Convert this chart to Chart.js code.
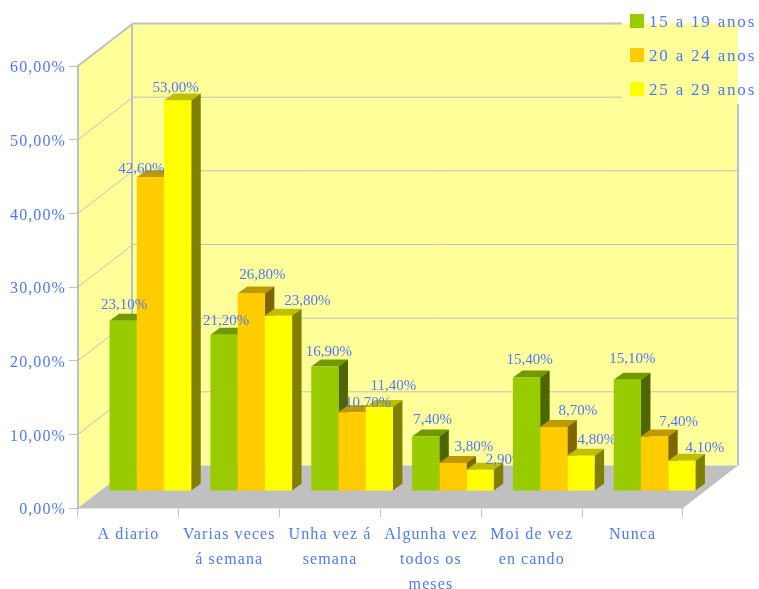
<!DOCTYPE html>
<html>
<head>
<meta charset="utf-8">
<style>html,body{margin:0;padding:0;background:#fff}canvas{display:block}</style>
<script src="https://cdn.jsdelivr.net/npm/chart.js@4"></script>
</head>
<body>
<canvas id="c" width="759" height="589"></canvas>
<script>
const categories = [['A diario'],['Varias veces','á semana'],['Unha vez á','semana'],['Algunha vez','todos os','meses'],['Moi de vez','en cando'],['Nunca']];
const seriesNames = ['15 a 19 anos','20 a 24 anos','25 a 29 anos'];
const age15to19 = [23.1,21.2,16.9,7.4,15.4,15.1];
const age20to24 = [42.6,26.8,10.7,3.8,8.7,7.4];
const age25to29 = [53.0,23.8,11.4,2.9,4.8,4.1];

const FONT = '"Liberation Serif", serif';
const TEXT = '#4d78ff';
const GREY = '#c0c0c0';
const fronts = ['#99cc00','#ffcc00','#ffff00'];
const tops = ['#739900','#bf9900','#bfbf00'];
const sides = ['#4d6600','#806600','#808000'];
const WALL_DX = 55, WALL_DY = -42.5;
const BAR_DX = 22, BAR_DY = -17;
const DEPTH_DX = 9.5, DEPTH_DY = -7;
const labelDx = [[1,2,4,7,3,5],[-9,11,16,21,24,24],[-2,29,14,25,16,23]];
const labelDy = [[-17.5,-15,-16,-18,-19,-22],[-10,-20,-11,-17,-17,-16],[-14,-16,-22,-11,-17,-14]];
const fmt = v => v.toFixed(2).replace('.', ',') + '%';

const scene = {
  id: 'scene',
  beforeDraw(chart) {
    const {ctx, chartArea: a, scales: {y}} = chart;
    ctx.letterSpacing = '1.1px';
    if (!y._nudged) {
      const drawLabels = y.drawLabels;
      y.drawLabels = function (area) {
        ctx.save(); ctx.translate(0, 2); drawLabels.call(this, area); ctx.restore();
      };
      y._nudged = true;
    }
    const bl = a.left + WALL_DX, br = a.right + WALL_DX, by = a.bottom + WALL_DY, ty = a.top + WALL_DY;
    ctx.save();
    ctx.fillStyle = '#ffff99';
    ctx.beginPath();
    ctx.moveTo(a.left, a.top); ctx.lineTo(bl, ty); ctx.lineTo(br, ty); ctx.lineTo(br, by);
    ctx.lineTo(bl, by); ctx.lineTo(a.left, a.bottom); ctx.closePath(); ctx.fill();
    ctx.fillStyle = GREY;
    ctx.beginPath();
    ctx.moveTo(a.left, a.bottom); ctx.lineTo(a.right, a.bottom); ctx.lineTo(br, by); ctx.lineTo(bl, by);
    ctx.closePath(); ctx.fill();
    ctx.strokeStyle = GREY;
    const legendEdge = 622;
    for (const t of y.ticks) {
      if (t.value === 0) continue;
      const py = y.getPixelForValue(t.value);
      ctx.lineWidth = t.value === 60 ? 2 : 1;
      ctx.beginPath();
      ctx.moveTo(a.left, py); ctx.lineTo(bl, py + WALL_DY);
      ctx.lineTo(t.value >= 50 ? legendEdge : br, py + WALL_DY);
      ctx.stroke();
    }
    ctx.lineWidth = 2;
    ctx.beginPath();
    ctx.moveTo(bl - 1, ty); ctx.lineTo(bl - 1, by);
    ctx.moveTo(br, 104); ctx.lineTo(br, by);
    ctx.stroke();
    ctx.restore();
  },
  beforeDatasetDraw() { return false; },
  beforeDatasetsDraw(chart) {
    const ctx = chart.ctx, a = chart.chartArea;
    categories.forEach((cat, j) => {
      ctx.save();
      ctx.translate(BAR_DX, BAR_DY);
      chart.data.datasets.forEach((ds, i) => {
        const el = chart.getDatasetMeta(i).data[j];
        const l = el.x - el.width / 2, r = el.x + el.width / 2, t = el.y, b = el.base;
        ctx.fillStyle = tops[i];
        ctx.beginPath();
        ctx.moveTo(l, t); ctx.lineTo(l + DEPTH_DX, t + DEPTH_DY); ctx.lineTo(r + DEPTH_DX, t + DEPTH_DY); ctx.lineTo(r, t);
        ctx.closePath(); ctx.fill();
        ctx.fillStyle = sides[i];
        ctx.beginPath();
        ctx.moveTo(r, t); ctx.lineTo(r + DEPTH_DX, t + DEPTH_DY); ctx.lineTo(r + DEPTH_DX, b + DEPTH_DY); ctx.lineTo(r, b);
        ctx.closePath(); ctx.fill();
        el.draw(ctx, a);
      });
      ctx.restore();
      ctx.save();
      ctx.font = '15px ' + FONT;
      ctx.letterSpacing = '0px';
      ctx.fillStyle = TEXT;
      ctx.textAlign = 'center';
      ctx.textBaseline = 'middle';
      chart.data.datasets.forEach((ds, i) => {
        const el = chart.getDatasetMeta(i).data[j];
        ctx.fillText(fmt(ds.data[j]), el.x + BAR_DX + labelDx[i][j], el.y + BAR_DY + labelDy[i][j] + 1.5);
      });
      ctx.restore();
    });
  },
  afterDatasetsDraw(chart) {
    const ctx = chart.ctx;
    ctx.save();
    ctx.textBaseline = 'middle';
    ctx.font = '17px ' + FONT;
    ctx.letterSpacing = '1.8px';
    ctx.textAlign = 'left';
    seriesNames.forEach((name, i) => {
      const top = 14 + i * 34;
      ctx.fillStyle = fronts[i];
      ctx.fillRect(630, top, 14, 14);
      ctx.fillStyle = TEXT;
      ctx.fillText(name, 649, top + 8.5);
    });
    ctx.restore();
  }
};

new Chart(document.getElementById('c'), {
  type: 'bar',
  data: {
    labels: categories,
    datasets: [age15to19, age20to24, age25to29].map((data, i) => ({
      label: seriesNames[i], data, backgroundColor: fronts[i], clip: false,
      categoryPercentage: 0.81, barPercentage: 1
    }))
  },
  options: {
    responsive: false, animation: false,
    layout: {padding: {top: 66, right: 76, left: 0, bottom: 0}},
    plugins: {legend: {display: false}, tooltip: {enabled: false}, title: {display: false}},
    scales: {
      x: {
        afterFit(s) { s.height = 81; },
        grid: {drawOnChartArea: false, tickLength: 9, tickColor: GREY, tickWidth: 1},
        border: {color: '#e2e2e2', width: 1},
        ticks: {color: TEXT, font: {family: FONT, size: 16, lineHeight: 1.57}, padding: 5, maxRotation: 0, minRotation: 0, autoSkip: false}
      },
      y: {
        min: 0, max: 60,
        afterFit(s) { s.width = 78; },
        grid: {drawOnChartArea: false, tickLength: 9, tickColor: GREY, tickWidth: 1},
        border: {color: GREY, width: 2},
        ticks: {color: TEXT, stepSize: 10, padding: 3, font: {family: FONT, size: 16}, callback: fmt}
      }
    }
  },
  plugins: [scene]
});
</script>
</body>
</html>
